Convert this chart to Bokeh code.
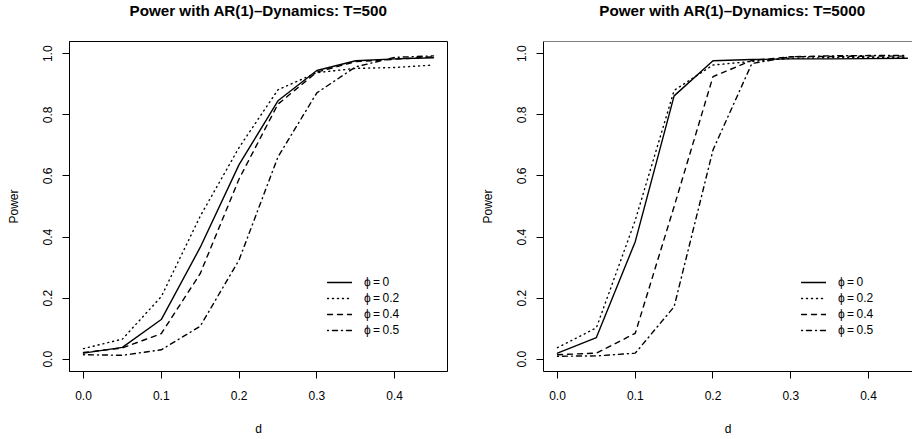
from bokeh.plotting import figure
from bokeh.layouts import row, column
from bokeh.models import (FixedTicker, NumeralTickFormatter, Legend, LegendItem,
                          Range1d, Span, Label)
from bokeh.embed import file_html
from bokeh.resources import INLINE

# ---- data ----
d = [0.0, 0.05, 0.10, 0.15, 0.20, 0.25, 0.30, 0.35, 0.40, 0.45]

t500_phi00 = [0.020, 0.039, 0.130, 0.366, 0.637, 0.846, 0.945, 0.977, 0.983, 0.987]
t500_phi02 = [0.035, 0.066, 0.205, 0.468, 0.693, 0.882, 0.938, 0.952, 0.955, 0.963]
t500_phi04 = [0.022, 0.037, 0.084, 0.280, 0.590, 0.835, 0.940, 0.974, 0.982, 0.990]
t500_phi05 = [0.015, 0.013, 0.031, 0.108, 0.325, 0.662, 0.872, 0.957, 0.988, 0.993]

t5000_phi00 = [0.020, 0.071, 0.385, 0.862, 0.977, 0.981, 0.983, 0.983, 0.984, 0.985]
t5000_phi02 = [0.038, 0.103, 0.455, 0.880, 0.963, 0.975, 0.985, 0.987, 0.988, 0.988]
t5000_phi04 = [0.015, 0.020, 0.085, 0.500, 0.925, 0.978, 0.990, 0.991, 0.992, 0.992]
t5000_phi05 = [0.010, 0.011, 0.020, 0.172, 0.685, 0.968, 0.990, 0.993, 0.994, 0.994]

legend_labels = ["\u03d5\u2009=\u20090", "\u03d5\u2009=\u20090.2", "\u03d5\u2009=\u20090.4", "\u03d5\u2009=\u20090.5"]
dashes = ["solid", "1 4", "5 5", "1 4 5 4"]

x_ticks = [0.0, 0.1, 0.2, 0.3, 0.4]
y_ticks = [0.0, 0.2, 0.4, 0.6, 0.8, 1.0]

titles = ["Power with AR(1)\u2013Dynamics: T=500", "Power with AR(1)\u2013Dynamics: T=5000"]

FONT = "Liberation Sans"
LEGEND_FONT = "'Liberation Sans', 'DejaVu Sans', sans-serif"
PANEL_W = 456
TITLE_H = 33
PLOT_H = 439 - TITLE_H


def make_title(text, center_x):
    t = figure(width=PANEL_W, height=TITLE_H, output_backend="svg", toolbar_location=None,
               x_range=Range1d(0, PANEL_W), y_range=Range1d(0, TITLE_H),
               x_axis_type=None, y_axis_type=None, min_border=0, title=None)
    t.grid.visible = False
    t.outline_line_color = None
    t.background_fill_color = "white"
    t.border_fill_color = "white"
    t.add_layout(Label(text=text, x=center_x, y=23, x_units="screen", y_units="screen",
                       text_align="center", text_baseline="alphabetic",
                       text_font=FONT, text_font_size="15.2px", text_font_style="bold",
                       text_color="black"))
    return t


def make_panel(series, border_left, border_right, x_end, right_border):
    p = figure(width=PANEL_W, height=PLOT_H, output_backend="svg", toolbar_location=None,
               x_range=Range1d(-0.018, x_end), y_range=Range1d(-0.04, 1.04),
               min_border_left=border_left, min_border_right=border_right,
               min_border_top=8, min_border_bottom=68, title=None)
    p.grid.visible = False
    p.background_fill_color = "white"
    p.border_fill_color = "white"
    if right_border:
        p.outline_line_color = "black"
        p.outline_line_width = 1
    else:
        p.outline_line_color = None
        p.add_layout(Span(location=p.y_range.end, dimension="width",
                          line_color="black", line_width=1))

    for ax in (p.xaxis[0], p.yaxis[0]):
        ax.axis_line_color = "black"
        ax.axis_line_width = 1
        ax.major_tick_in = 0
        ax.major_tick_out = 7
        ax.minor_tick_line_color = None
        ax.major_label_text_font = FONT
        ax.major_label_text_font_size = "12px"
        ax.major_label_text_color = "black"
        ax.axis_label_text_font = FONT
        ax.axis_label_text_font_size = "12px"
        ax.axis_label_text_font_style = "normal"
        ax.axis_label_text_color = "black"
        ax.formatter = NumeralTickFormatter(format="0.0")

    p.xaxis.ticker = FixedTicker(ticks=x_ticks)
    p.yaxis.ticker = FixedTicker(ticks=y_ticks)
    p.xaxis.axis_label = "d"
    p.yaxis.axis_label = "Power"
    p.xaxis.major_label_standoff = 12
    p.xaxis.axis_label_standoff = 19
    p.yaxis.major_label_orientation = "vertical"
    p.yaxis.major_label_standoff = 10
    p.yaxis.axis_label_standoff = 20

    items = []
    for ys, dash, lab in zip(series, dashes, legend_labels):
        r = p.line(d, ys, line_color="black", line_width=1.4, line_dash=dash,
                   line_cap="round", line_join="round")
        items.append(LegendItem(label=lab, renderers=[r]))

    leg = Legend(items=items, location=(258, 33), glyph_width=25, glyph_height=16,
                 label_height=16, spacing=0, label_standoff=12, padding=0, margin=0,
                 border_line_color=None, background_fill_alpha=0,
                 label_text_font=LEGEND_FONT, label_text_font_size="12px",
                 label_text_color="black")
    p.add_layout(leg, "center")
    return p


t1 = make_title(titles[0], 258)
t2 = make_title(titles[1], 276)
p1 = make_panel([t500_phi00, t500_phi02, t500_phi04, t500_phi05], 69, 9, 0.468, True)
p2 = make_panel([t5000_phi00, t5000_phi02, t5000_phi04, t5000_phi05], 87, 0,
                -0.018 + 369 / 777.5, False)

layout = column(row(t1, t2), row(p1, p2))
open("out.html", "w").write(file_html(layout, INLINE))
